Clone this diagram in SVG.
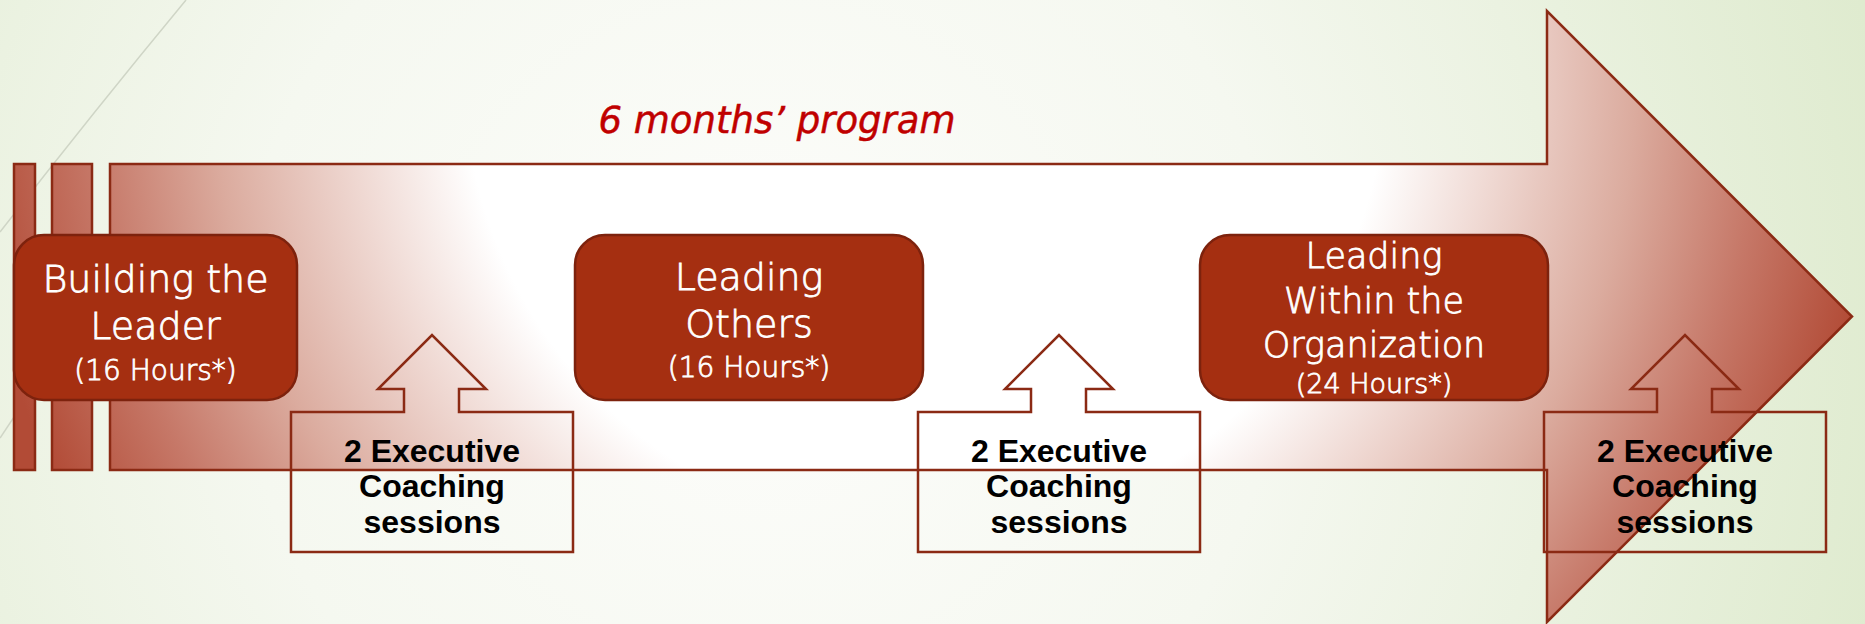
<svg xmlns="http://www.w3.org/2000/svg" width="1865" height="624" viewBox="0 0 1865 624">
<defs>
<radialGradient id="bg" gradientUnits="userSpaceOnUse" cx="760" cy="330" r="1150">
<stop offset="0" stop-color="#fdfdfb"/>
<stop offset="0.45" stop-color="#f5f8f0"/>
<stop offset="1" stop-color="#dfebcf"/>
</radialGradient>
<radialGradient id="arr" gradientUnits="userSpaceOnUse" cx="925" cy="73" r="960">
<stop offset="0" stop-color="#ffffff"/>
<stop offset="0.48" stop-color="#ffffff"/>
<stop offset="0.6" stop-color="#efd8d2"/>
<stop offset="0.74" stop-color="#dbab9e"/>
<stop offset="0.87" stop-color="#c67868"/>
<stop offset="1" stop-color="#b24b36"/>
</radialGradient>
<style>
.arrow{fill:url(#arr);stroke:#8b2a14;stroke-width:2.5;stroke-linejoin:miter}
.box{fill:#a52f11;stroke:#7d220d;stroke-width:2.5}
.lbl{font-family:"DejaVu Sans","Liberation Sans",sans-serif;font-weight:300;fill:#ffffff;stroke:#ffffff;stroke-width:0.8;text-anchor:middle}
.call{fill:none;stroke:#8b2a14;stroke-width:2.5;stroke-linejoin:miter}
.ctxt{font-family:"Liberation Sans",Arial,sans-serif;font-weight:bold;font-size:32px;fill:#000000;text-anchor:middle}
</style>
</defs>
<rect x="0" y="0" width="1865" height="624" fill="url(#bg)"/>
<g id="decor" fill="none" stroke="#cfd5c6" stroke-width="1.5">
<path d="M186,0 Q95,110 0,232"/>
<path d="M0,438 L22,405"/>
</g>
<g id="title">
<text x="777" y="133" font-family="DejaVu Sans, Liberation Sans, sans-serif" font-style="italic" font-weight="300" font-size="37" fill="#c00000" stroke="#c00000" stroke-width="0.5" text-anchor="middle">6 months’ program</text>
</g>
<g id="timeline">
<rect class="arrow" x="14" y="164" width="21" height="306"/>
<rect class="arrow" x="52" y="164" width="40" height="306"/>
<path class="arrow" d="M110,164 L1547,164 L1547,11 L1852,316.5 L1547,622 L1547,470 L110,470 Z"/>
</g>
<g id="node-building">
<rect class="box" x="14" y="235" width="283" height="165" rx="30" ry="30"/>
<text class="lbl" font-size="38" x="155.5" y="292">Building the</text>
<text class="lbl" font-size="38" x="155.5" y="339">Leader</text>
<text class="lbl" font-size="28" x="155.5" y="380">(16 Hours*)</text>
</g>
<g id="node-others">
<rect class="box" x="575" y="235" width="348" height="165" rx="30" ry="30"/>
<text class="lbl" font-size="38" x="749" y="290">Leading</text>
<text class="lbl" font-size="38" x="749" y="337">Others</text>
<text class="lbl" font-size="28" x="749" y="377">(16 Hours*)</text>
</g>
<g id="node-organization">
<rect class="box" x="1200" y="235" width="348" height="165" rx="30" ry="30"/>
<text class="lbl" font-size="35" x="1374" y="268">Leading</text>
<text class="lbl" font-size="35" x="1374" y="313">Within the</text>
<text class="lbl" font-size="35" x="1374" y="357">Organization</text>
<text class="lbl" font-size="27" x="1374" y="393">(24 Hours*)</text>
</g>
<g id="connectors">
<path class="call" d="M291,412 L404,412 L404,389 L378,389 L432,335 L486,389 L459,389 L459,412 L573,412 L573,552 L291,552 Z"/>
<path class="call" d="M918,412 L1031,412 L1031,389 L1005,389 L1059,335 L1113,389 L1086,389 L1086,412 L1200,412 L1200,552 L918,552 Z"/>
<path class="call" d="M1544,412 L1657,412 L1657,389 L1631,389 L1685,335 L1739,389 L1712,389 L1712,412 L1826,412 L1826,552 L1544,552 Z"/>
</g>
<g id="coaching-1">
<text class="ctxt" x="432" y="462">2 Executive</text>
<text class="ctxt" x="432" y="497">Coaching</text>
<text class="ctxt" x="432" y="533">sessions</text>
</g>
<g id="coaching-2">
<text class="ctxt" x="1059" y="462">2 Executive</text>
<text class="ctxt" x="1059" y="497">Coaching</text>
<text class="ctxt" x="1059" y="533">sessions</text>
</g>
<g id="coaching-3">
<text class="ctxt" x="1685" y="462">2 Executive</text>
<text class="ctxt" x="1685" y="497">Coaching</text>
<text class="ctxt" x="1685" y="533">sessions</text>
</g>
</svg>
